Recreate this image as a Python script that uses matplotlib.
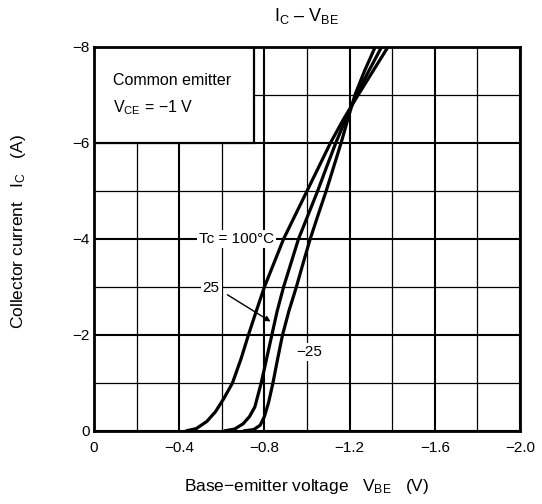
import matplotlib
matplotlib.use("Agg")
import matplotlib.pyplot as plt
from matplotlib.ticker import MultipleLocator, FixedLocator, FixedFormatter
from matplotlib.patches import Rectangle
import numpy as np

plt.rcParams['font.family'] = ['Liberation Sans', 'DejaVu Sans']
plt.rcParams['mathtext.fontset'] = 'custom'
plt.rcParams['mathtext.rm'] = 'Liberation Sans'
plt.rcParams['mathtext.it'] = 'Liberation Sans'
plt.rcParams['mathtext.default'] = 'regular'

# curva Tc = 100 C  (|VBE| en V, |IC| en A)
vbe_100 = [0.43, 0.48, 0.53, 0.57, 0.61, 0.65, 0.69, 0.725, 0.762, 0.80, 0.845, 0.89,
           0.945, 1.0, 1.055, 1.11, 1.172, 1.24, 1.31, 1.38]
ic_100 = [0.0, 0.05, 0.2, 0.4, 0.68, 1.0, 1.5, 2.0, 2.5, 3.0, 3.5, 4.0,
          4.5, 5.0, 5.5, 6.0, 6.5, 7.0, 7.5, 8.0]

# curva Tc = 25 C
vbe_25 = [0.61, 0.66, 0.70, 0.73, 0.755, 0.785, 0.81, 0.835, 0.86, 0.89, 0.925, 0.96,
          1.005, 1.05, 1.092, 1.135, 1.182, 1.232, 1.29, 1.35]
ic_25 = [0.0, 0.04, 0.15, 0.3, 0.5, 1.0, 1.5, 2.0, 2.5, 3.0, 3.5, 4.0,
         4.5, 5.0, 5.5, 6.0, 6.5, 7.0, 7.5, 8.0]

# curva Tc = -25 C
vbe_m25 = [0.70, 0.75, 0.78, 0.80, 0.82, 0.84, 0.862, 0.885, 0.915, 0.95, 0.982, 1.015,
           1.052, 1.09, 1.125, 1.16, 1.192, 1.225, 1.27, 1.32]
ic_m25 = [0.0, 0.03, 0.12, 0.3, 0.6, 1.0, 1.5, 2.0, 2.5, 3.0, 3.5, 4.0,
          4.5, 5.0, 5.5, 6.0, 6.5, 7.0, 7.5, 8.0]

xticks = [0, -0.4, -0.8, -1.2, -1.6, -2.0]
xlabels = ['0', '\u22120.4', '\u22120.8', '\u22121.2', '\u22121.6', '\u22122.0']
yticks = [0, -2, -4, -6, -8]
ylabels = ['0', '\u22122', '\u22124', '\u22126', '\u22128']

fig = plt.figure(figsize=(5.42, 5.04), dpi=100)
ax = fig.add_axes([94/542, 73/504, 426/542, 384/504])

for v, i in [(vbe_100, ic_100), (vbe_25, ic_25), (vbe_m25, ic_m25)]:
    ax.plot(-np.array(v), -np.array(i), color='black', lw=2.3,
            solid_joinstyle='round', solid_capstyle='butt', zorder=4)

ax.set_xlim(0, -2.0)
ax.set_ylim(0, -8)

ax.xaxis.set_major_locator(FixedLocator(xticks))
ax.xaxis.set_major_formatter(FixedFormatter(xlabels))
ax.yaxis.set_major_locator(FixedLocator(yticks))
ax.yaxis.set_major_formatter(FixedFormatter(ylabels))
ax.xaxis.set_minor_locator(MultipleLocator(0.2))
ax.yaxis.set_minor_locator(MultipleLocator(1))
ax.tick_params(which='both', length=0)
ax.tick_params(axis='x', pad=7, labelsize=11)
ax.tick_params(axis='y', pad=3, labelsize=11)
ax.set_axisbelow(True)
ax.grid(which='major', color='black', lw=1.5)
ax.grid(which='minor', color='black', lw=0.9)
for s in ax.spines.values():
    s.set_linewidth(2)

# cuadro de condiciones
ax.add_patch(Rectangle((0, -6), -0.75, -2, facecolor='white', edgecolor='black',
                       lw=1.6, zorder=2))
ax.text(-0.09, -7.31, 'Common emitter', fontsize=11.5, va='center', ha='left', zorder=3)
ax.text(-0.09, -6.73, '$V_{CE}$ = \u22121 V', fontsize=11.5, va='center', ha='left', zorder=3)

box = dict(facecolor='white', edgecolor='none', pad=1.5)
ax.text(-0.67, -4.0, 'Tc = 100\u00b0C', fontsize=11, ha='center', va='center', bbox=box, zorder=3)
ax.text(-0.55, -2.98, '25', fontsize=11, ha='center', va='center', bbox=box, zorder=3)
ax.text(-1.01, -1.65, '\u221225', fontsize=11, ha='center', va='center', bbox=box, zorder=3)
ax.annotate('', xy=(-0.84, -2.25), xytext=(-0.615, -2.87),
            arrowprops=dict(arrowstyle='-|>', lw=1, color='black', mutation_scale=8),
            zorder=5)

fig.text(307/542, 1 - 16/504, '$I_C$ \u2013 $V_{BE}$', fontsize=13, ha='center', va='center')
fig.text(19/542, 1 - 232/504, 'Collector current   $I_C$   (A)', fontsize=12.5,
         rotation=90, ha='center', va='center')
fig.text(307/542, 1 - 487/504, 'Base\u2212emitter voltage   $V_{BE}$   (V)', fontsize=12.5,
         ha='center', va='center')

fig.savefig('out.png', dpi=100)
